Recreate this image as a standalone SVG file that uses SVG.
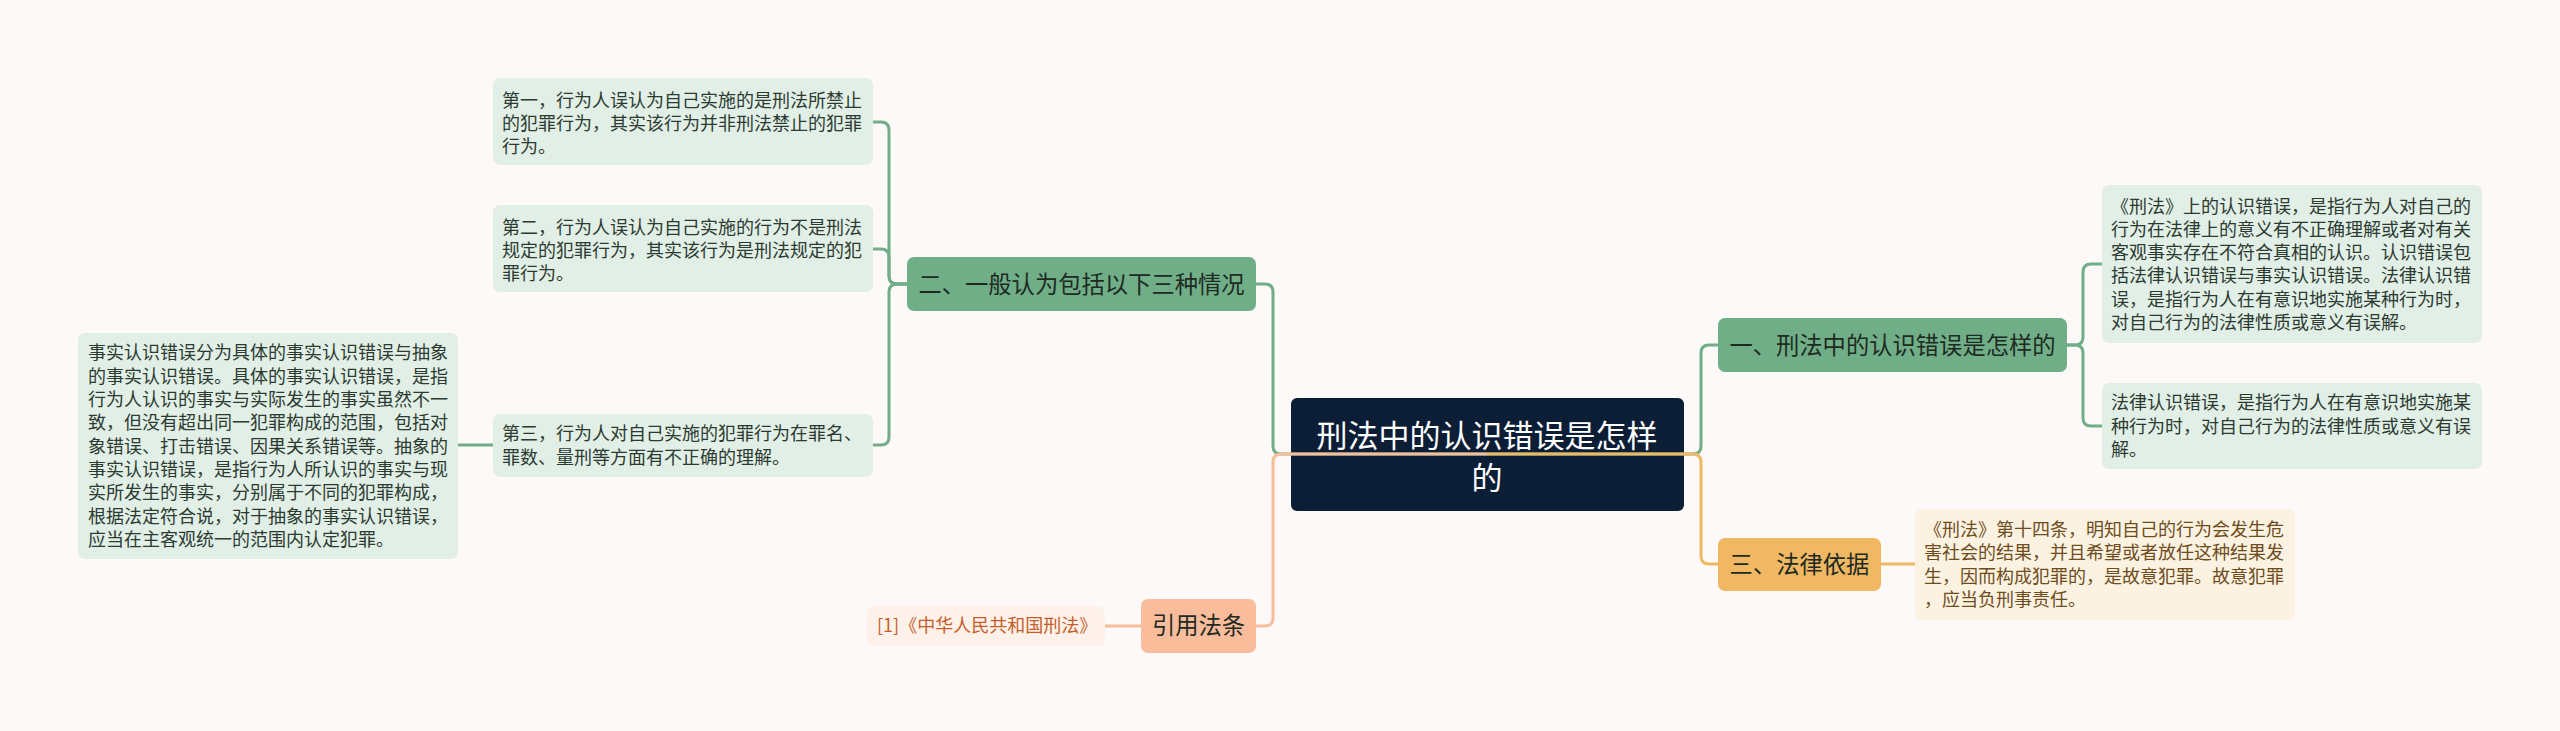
<svg xmlns="http://www.w3.org/2000/svg" width="2560" height="731" viewBox="0 0 2560 731">
<style>
text{font-family:"Noto Sans CJK SC","Noto Sans",sans-serif}
.leafg{fill:#e1efe6}
.leafo{fill:#fcf2e1}
.leafp{fill:#fdf1ea}
.lt{font-size:18px;fill:#2c3a31}
.lto{font-size:18px;fill:#6e4c1c}
.ltp{font-size:18px;fill:#c55d29}
.mt{font-size:23.3px;fill:#1e2a22;text-anchor:middle}
.cg{fill:none;stroke:#70ad88;stroke-width:3}
.co{fill:none;stroke:#efb862;stroke-width:3}
.cp{fill:none;stroke:#f8bd9b;stroke-width:3}
</style>
<rect x="0" y="0" width="2560" height="731" fill="#fdf9f8"/>

<g id="root">
<rect x="1291" y="398" width="393" height="113" rx="6" fill="#0c1e36"/>
<text x="1487" y="447" font-size="31" fill="#ffffff" text-anchor="middle">刑法中的认识错误是怎样</text>
<text x="1487" y="489" font-size="31" fill="#ffffff" text-anchor="middle">的</text>
</g>

<g id="n1">
<rect x="1718" y="318" width="349" height="54" rx="7" fill="#70ae88"/>
<text class="mt" x="1892.5" y="353.5">一、刑法中的认识错误是怎样的</text>
</g>
<g id="n1a">
<rect class="leafg" x="2102" y="185" width="380" height="158" rx="7"/>
<text class="lt" x="2111"><tspan x="2111" y="212.5">《刑法》上的认识错误，是指行为人对自己的</tspan><tspan x="2111" y="235.8">行为在法律上的意义有不正确理解或者对有关</tspan><tspan x="2111" y="259.1">客观事实存在不符合真相的认识。认识错误包</tspan><tspan x="2111" y="282.4">括法律认识错误与事实认识错误。法律认识错</tspan><tspan x="2111" y="305.7">误，是指行为人在有意识地实施某种行为时，</tspan><tspan x="2111" y="329">对自己行为的法律性质或意义有误解。</tspan></text>
</g>
<g id="n1b">
<rect class="leafg" x="2102" y="383" width="380" height="86" rx="7"/>
<text class="lt"><tspan x="2111" y="409.2">法律认识错误，是指行为人在有意识地实施某</tspan><tspan x="2111" y="432.5">种行为时，对自己行为的法律性质或意义有误</tspan><tspan x="2111" y="455.8">解。</tspan></text>
</g>

<g id="n3">
<rect x="1718" y="538" width="163" height="53" rx="7" fill="#f0b862"/>
<text class="mt" x="1799.5" y="573">三、法律依据</text>
</g>
<g id="n3a">
<rect class="leafo" x="1915" y="509" width="380" height="111" rx="7"/>
<text class="lto"><tspan x="1924" y="536">《刑法》第十四条，明知自己的行为会发生危</tspan><tspan x="1924" y="559.3">害社会的结果，并且希望或者放任这种结果发</tspan><tspan x="1924" y="582.6">生，因而构成犯罪的，是故意犯罪。故意犯罪</tspan><tspan x="1924" y="605.9">，应当负刑事责任。</tspan></text>
</g>

<g id="n2">
<rect x="907" y="257" width="349" height="54" rx="7" fill="#70ae88"/>
<text class="mt" x="1081.5" y="292.5">二、一般认为包括以下三种情况</text>
</g>
<g id="n2a">
<rect class="leafg" x="493" y="78" width="380" height="87" rx="7"/>
<text class="lt"><tspan x="502" y="106.7">第一，行为人误认为自己实施的是刑法所禁止</tspan><tspan x="502" y="130">的犯罪行为，其实该行为并非刑法禁止的犯罪</tspan><tspan x="502" y="153.3">行为。</tspan></text>
</g>
<g id="n2b">
<rect class="leafg" x="493" y="205" width="380" height="87" rx="7"/>
<text class="lt"><tspan x="502" y="233.7">第二，行为人误认为自己实施的行为不是刑法</tspan><tspan x="502" y="257">规定的犯罪行为，其实该行为是刑法规定的犯</tspan><tspan x="502" y="280.3">罪行为。</tspan></text>
</g>
<g id="n2c">
<rect class="leafg" x="493" y="414" width="380" height="63" rx="7"/>
<text class="lt"><tspan x="502" y="440.4">第三，行为人对自己实施的犯罪行为在罪名、</tspan><tspan x="502" y="463.7">罪数、量刑等方面有不正确的理解。</tspan></text>
</g>
<g id="n2c1">
<rect class="leafg" x="78" y="333" width="380" height="226" rx="7"/>
<text class="lt"><tspan x="88" y="359.4">事实认识错误分为具体的事实认识错误与抽象</tspan><tspan x="88" y="382.7">的事实认识错误。具体的事实认识错误，是指</tspan><tspan x="88" y="406">行为人认识的事实与实际发生的事实虽然不一</tspan><tspan x="88" y="429.3">致，但没有超出同一犯罪构成的范围，包括对</tspan><tspan x="88" y="452.6">象错误、打击错误、因果关系错误等。抽象的</tspan><tspan x="88" y="475.9">事实认识错误，是指行为人所认识的事实与现</tspan><tspan x="88" y="499.2">实所发生的事实，分别属于不同的犯罪构成，</tspan><tspan x="88" y="522.5">根据法定符合说，对于抽象的事实认识错误，</tspan><tspan x="88" y="545.8">应当在主客观统一的范围内认定犯罪。</tspan></text>
</g>

<g id="n4">
<rect x="1141" y="599" width="115" height="54" rx="7" fill="#f9bd9b"/>
<text class="mt" x="1198.5" y="634">引用法条</text>
</g>
<g id="n4a">
<rect class="leafp" x="867" y="606" width="238" height="40" rx="7"/>
<text class="ltp" x="877" y="632">[1]《中华人民共和国刑法》</text>
</g>

<g id="connectors">
<path class="cg" d="M1487,454 H1693 Q1701,454 1701,446 V353 Q1701,345 1709,345 H1718"/>
<path class="cg" d="M1487,454 H1281 Q1273,454 1273,446 V292 Q1273,284 1265,284 H1256"/>
<path class="cg" d="M2067,345 H2075 Q2083,345 2083,337 V272 Q2083,264 2091,264 H2102"/>
<path class="cg" d="M2067,345 H2075 Q2083,345 2083,353 V418 Q2083,426 2091,426 H2102"/>
<path class="cg" d="M907,284 H897 Q889,284 889,276 V130 Q889,122 881,122 H873"/>
<path class="cg" d="M907,284 H897 Q889,284 889,276 V257 Q889,249 881,249 H873"/>
<path class="cg" d="M907,284 H897 Q889,284 889,292 V437 Q889,445 881,445 H873"/>
<path class="cg" d="M493,445 H458"/>
<path class="co" d="M1487,454 H1693 Q1701,454 1701,462 V556 Q1701,564 1709,564 H1718"/>
<path class="co" d="M1881,564 H1915"/>
<path class="cp" d="M1487,454 H1281 Q1273,454 1273,462 V618 Q1273,626 1265,626 H1256"/>
<path class="cp" d="M1141,626 H1105"/>
</g>
</svg>
